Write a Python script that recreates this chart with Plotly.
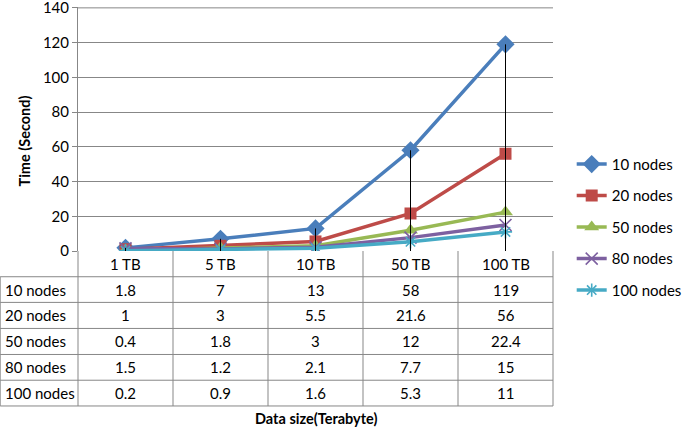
import plotly.graph_objects as go

categories = ["1 TB", "5 TB", "10 TB", "50 TB", "100 TB"]
series_names = ["10 nodes", "20 nodes", "50 nodes", "80 nodes", "100 nodes"]
nodes_10 = [1.8, 7, 13, 58, 119]
nodes_20 = [1, 3, 5.5, 21.6, 56]
nodes_50 = [0.4, 1.8, 3, 12, 22.4]
nodes_80 = [1.5, 1.2, 2.1, 7.7, 15]
nodes_100 = [0.2, 0.9, 1.6, 5.3, 11]
y_ticks = [0, 20, 40, 60, 80, 100, 120, 140]

W, H = 685, 430
FONT = "Lato, Carlito, Calibri, sans-serif"
GRID = "#878787"
COLORS = ["#4A7EBB", "#BE4B48", "#98B954", "#7D60A0", "#46AAC5"]
SYMBOLS = ["diamond", "square", "triangle-up", "x-thin-open", "asterisk-open"]
SIZES = [14, 12, 13, 12, 11]

# plot area in pixels (y top padded a hair so the 140 gridline is kept)
Y_MAX = 140.5
X0, X1, Y1 = 78.3, 553.3, 251
Y0 = Y1 - (251 - 8.3) * Y_MAX / 140
ROWS = [251, 276.7, 302.3, 328.3, 354.3, 380, 405.7]
COL_W = (X1 - X0) / len(categories)


def px(x):
    return (x - X0) / (X1 - X0)


def py(y):
    return (Y1 - y) / (Y1 - Y0)


all_series = [nodes_10, nodes_20, nodes_50, nodes_80, nodes_100]
xs = list(range(len(categories)))

fig = go.Figure()

# drop lines from the highest point down to the category axis
drop_x, drop_y = [], []
for i in xs:
    top = max(s[i] for s in all_series)
    drop_x += [i, i, None]
    drop_y += [0, top, None]

for name, vals, col, sym, sz in zip(series_names, all_series, COLORS, SYMBOLS, SIZES):
    thin = sym in ("x-thin-open", "asterisk-open")
    fig.add_trace(go.Scatter(
        x=xs, y=vals, name=name, mode="lines+markers",
        line=dict(color=col, width=3.5),
        marker=dict(symbol=sym, size=sz, color=col,
                    line=dict(color=col, width=1.6 if thin else 0)),
        legendgroup=name, hoverinfo="skip",
    ))

fig.add_trace(go.Scatter(x=drop_x, y=drop_y, mode="lines", showlegend=False,
                         line=dict(color="black", width=1), hoverinfo="skip"))

shapes = []
# top gridline at 140
shapes.append(dict(type="line", xref="paper", yref="y", x0=0, x1=1,
                   y0=y_ticks[-1], y1=y_ticks[-1],
                   line=dict(color=GRID, width=1), layer="below"))
# horizontal table rules
for y in ROWS[1:]:
    shapes.append(dict(type="line", xref="paper", yref="paper",
                       x0=px(0.5), x1=px(X1), y0=py(y), y1=py(y),
                       line=dict(color=GRID, width=1)))
# vertical table rules
shapes.append(dict(type="line", xref="paper", yref="paper", x0=px(0.5), x1=px(0.5),
                   y0=py(ROWS[1]), y1=py(ROWS[-1]), line=dict(color=GRID, width=1)))
for j in range(len(categories) + 1):
    x = X0 + j * COL_W
    shapes.append(dict(type="line", xref="paper", yref="paper", x0=px(x), x1=px(x),
                       y0=py(ROWS[0]), y1=py(ROWS[-1]), line=dict(color=GRID, width=1)))


def label(x, y, text, size=15, xanchor="center", angle=0):
    return dict(x=px(x), y=py(y), xref="paper", yref="paper", text=text,
                showarrow=False, xanchor=xanchor, yanchor="middle", textangle=angle,
                font=dict(size=size, color="black"))


annotations = []
for j, c in enumerate(categories):
    annotations.append(label(X0 + (j + 0.5) * COL_W, (ROWS[0] + ROWS[1]) / 2, c))
for r, (name, vals) in enumerate(zip(series_names, all_series)):
    yc = (ROWS[r + 1] + ROWS[r + 2]) / 2
    annotations.append(label(3, yc, name, xanchor="left"))
    for j, v in enumerate(vals):
        annotations.append(label(X0 + (j + 0.5) * COL_W, yc, f"{v:g}"))

annotations.append(label((X0 + X1) / 2, 418, "<b>Data size(Terabyte)</b>", size=14.5))
annotations.append(label(25, 141, "<b>Time (Second)</b>", size=14.5, angle=-90))

fig.update_layout(
    width=W, height=H,
    margin=dict(l=X0, r=W - X1, t=Y0, b=H - Y1, autoexpand=False),
    paper_bgcolor="white", plot_bgcolor="rgba(0,0,0,0)",
    font=dict(family=FONT, color="black", size=15),
    xaxis=dict(range=[-0.5, len(categories) - 0.5],
               showticklabels=False, showgrid=False, zeroline=False,
               showline=False, ticks=""),
    yaxis=dict(range=[0, Y_MAX], tickvals=y_ticks, ticklabeloverflow="allow",
               showgrid=True, gridcolor=GRID, gridwidth=1, zeroline=False,
               showline=True, linecolor=GRID,
               linewidth=1, ticks="outside", ticklen=5, tickcolor=GRID,
               tickfont=dict(size=15, color="black")),
    legend=dict(x=px(572), y=py(148), xanchor="left", yanchor="top",
                font=dict(size=15, color="black"), tracegroupgap=9,
                bgcolor="rgba(0,0,0,0)"),
    shapes=shapes,
    annotations=annotations,
    showlegend=True,
    hovermode=False,
)

fig.write_html("out.html", config={"displayModeBar": False},
               post_script="document.body.style.margin='0';")
